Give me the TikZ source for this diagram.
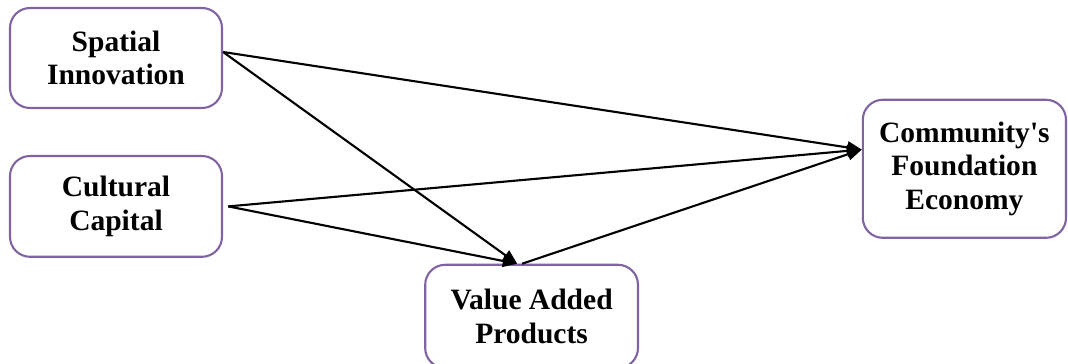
\documentclass[tikz,border=0pt]{standalone}
\usepackage{fontspec}
\setmainfont{Liberation Serif}
\usetikzlibrary{arrows.meta}
\definecolor{boxpurple}{HTML}{8064A2}

\begin{document}
\begin{tikzpicture}[
	factor/.style={draw=boxpurple, line width=1.5pt, rectangle, rounded corners=0.5cm, fill=white, align=center, font=\fontsize{21}{24}\selectfont\bfseries, inner sep=0pt},
	link/.style={line width=1.5pt, -{Triangle[length=0.36cm, width=0.3cm]}}
	]
				\useasboundingbox (0,0) rectangle (26.7,-9.1);
				\node[factor, minimum width=5.3cm, minimum height=2.5cm] (SI)at(2.9, -1.45) {Spatial\\Innovation};
				\node[factor, minimum width=5.3cm, minimum height=2.52cm] (CC)at(2.9, -5.16) {Cultural\\Capital};
				\node[factor, minimum width=5.32cm, minimum height=2.58cm] (VAP)at(13.29, -7.91) {Value Added\\Products};
				\node[factor, minimum width=5.08cm, minimum height=3.45cm] (CFE)at(24.11, -4.22) {Community\textquotesingle s\\Foundation\\Economy};
				\coordinate (SIout)at([yshift=0.15cm]SI.east);
				\coordinate (CCout)at([xshift=0.13cm]CC.east);
				\coordinate (VAPin)at([xshift=-0.36cm]VAP.north);
				\coordinate (VAPout)at([xshift=-0.24cm]VAP.north);
				\coordinate (CFEin)at([yshift=0.48cm]CFE.west);
				\draw (SIout) edge[link] (CFEin);
				\draw (SIout) edge[link] (VAPin);
				\draw (CCout) edge[link] (CFEin);
				\draw (CCout) edge[link] (VAPin);
				\draw (VAPout) edge[link] (CFEin);
			\end{tikzpicture}
\end{document}
